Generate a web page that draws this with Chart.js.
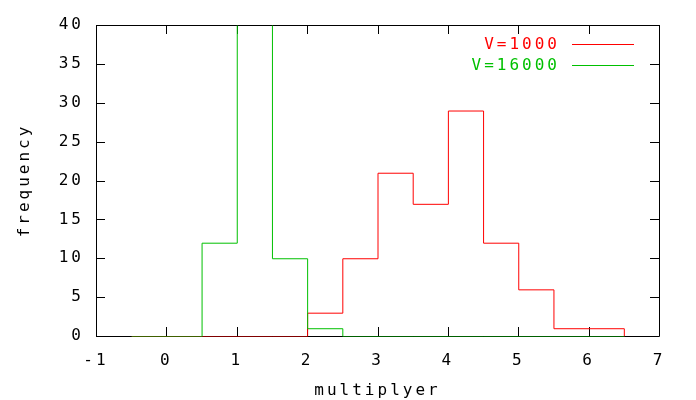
<!DOCTYPE html>
<html>
<head>
<meta charset="utf-8">
<script src="https://cdn.jsdelivr.net/npm/chart.js@4"></script>
<style>
  html, body { margin: 0; padding: 0; background: #fff; }
  canvas { display: block; }
</style>
</head>
<body>
<canvas id="histChart" width="696" height="400"></canvas>
<script>
// histogram bins (lower edges), last bin ends at binEnd
const binStart = [-0.5, 0, 0.5, 1, 1.5, 2, 2.5, 3, 3.5, 4, 4.5, 5, 5.5, 6];
const binEnd = 6.5;
const freqV1000 = [0, 0, 0, 0, 0, 3, 10, 21, 17, 29, 12, 6, 1, 1];
const freqV16000 = [0, 0, 12, 77, 10, 1, 0, 0, 0, 0, 0, 0, 0, 0];
const seriesNames = ['V=1000', 'V=16000'];
const seriesColors = ['#ff0000', '#00c000'];
const xTicks = [-1, 0, 1, 2, 3, 4, 5, 6, 7];
const yTicks = [0, 5, 10, 15, 20, 25, 30, 35, 40];

const FONT = '"DejaVu Sans Mono", monospace';
const SPACING = '3px';

function stepPoints(values) {
    const pts = binStart.map((x, i) => ({ x: x, y: values[i] }));
    pts.push({ x: binEnd, y: 0 });
    return pts;
}

// gnuplot look: inward ticks on all sides, wide text, legend text-then-line
const gnuplotLook = {
    id: 'gnuplotLook',
    beforeUpdate(chart) {
        chart.ctx.letterSpacing = SPACING;
    },
    beforeDraw(chart) {
        chart.ctx.letterSpacing = SPACING;
    },
    beforeDatasetsDraw(chart) {
        const ctx = chart.ctx;
        const a = chart.chartArea;
        const xs = chart.scales.x;
        const ys = chart.scales.y;
        const tl = 9;
        ctx.save();
        ctx.strokeStyle = '#000';
        ctx.lineWidth = 1;
        ctx.beginPath();
        ctx.rect(a.left + 0.5, a.top + 0.5, a.right - a.left, a.bottom - a.top);
        xTicks.forEach(v => {
            const px = Math.round(xs.getPixelForValue(v)) + 0.5;
            ctx.moveTo(px, a.bottom);
            ctx.lineTo(px, a.bottom - tl);
            ctx.moveTo(px, a.top);
            ctx.lineTo(px, a.top + tl);
        });
        yTicks.forEach(v => {
            const py = Math.round(ys.getPixelForValue(v)) + 0.5;
            ctx.moveTo(a.left, py);
            ctx.lineTo(a.left + tl, py);
            ctx.moveTo(a.right, py);
            ctx.lineTo(a.right - tl, py);
        });
        ctx.stroke();
        ctx.restore();
        // crisp 1px data lines
        ctx.save();
        ctx.translate(0.5, 0.5);
    },
    afterDatasetsDraw(chart) {
        chart.ctx.restore();
    },
    afterDraw(chart) {
        const ctx = chart.ctx;
        ctx.save();
        ctx.letterSpacing = SPACING;
        ctx.font = '16px ' + FONT;
        ctx.textAlign = 'right';
        ctx.textBaseline = 'middle';
        chart.data.datasets.forEach((ds, i) => {
            const y = 45 + i * 21;
            ctx.fillStyle = ds.borderColor;
            ctx.fillText(ds.label, 560, y);
            ctx.strokeStyle = ds.borderColor;
            ctx.lineWidth = 1;
            ctx.beginPath();
            ctx.moveTo(572, Math.round(y) - 0.5);
            ctx.lineTo(634, Math.round(y) - 0.5);
            ctx.stroke();
        });
        ctx.restore();
    }
};

new Chart(document.getElementById('histChart').getContext('2d'), {
    type: 'line',
    data: {
        datasets: [{
            label: seriesNames[0],
            data: stepPoints(freqV1000),
            borderColor: seriesColors[0],
            borderWidth: 1,
            pointRadius: 0,
            stepped: true,
            fill: false,
            order: 1
        }, {
            label: seriesNames[1],
            data: stepPoints(freqV16000),
            borderColor: seriesColors[1],
            borderWidth: 1,
            pointRadius: 0,
            stepped: true,
            fill: false,
            order: 0
        }]
    },
    options: {
        responsive: false,
        animation: false,
        layout: { padding: { top: 25, right: 37, left: 0, bottom: 0 } },
        plugins: {
            legend: { display: false },
            tooltip: { enabled: false }
        },
        scales: {
            x: {
                type: 'linear',
                min: -1,
                max: 7,
                afterBuildTicks: (scale) => { scale.ticks = xTicks.map(v => ({ value: v })); },
                afterFit: (scale) => { scale.height = 64; },
                grid: { display: false, drawTicks: false },
                border: { display: false },
                ticks: {
                    autoSkip: false,
                    maxRotation: 0,
                    padding: 15,
                    color: '#000',
                    font: { family: FONT, size: 16 }
                },
                title: {
                    display: true,
                    text: 'multiplyer',
                    color: '#000',
                    font: { family: FONT, size: 16 },
                    padding: { top: 0, bottom: 0 }
                }
            },
            y: {
                min: 0,
                max: 40,
                afterBuildTicks: (scale) => { scale.ticks = yTicks.map(v => ({ value: v })); },
                afterFit: (scale) => { scale.width = 96; },
                grid: { display: false, drawTicks: false },
                border: { display: false },
                ticks: {
                    autoSkip: false,
                    padding: 12,
                    color: '#000',
                    font: { family: FONT, size: 16 }
                },
                title: {
                    display: true,
                    text: 'frequency',
                    color: '#000',
                    font: { family: FONT, size: 16 },
                    padding: { top: 15, bottom: 0 }
                }
            }
        }
    },
    plugins: [gnuplotLook]
});
</script>
</body>
</html>
